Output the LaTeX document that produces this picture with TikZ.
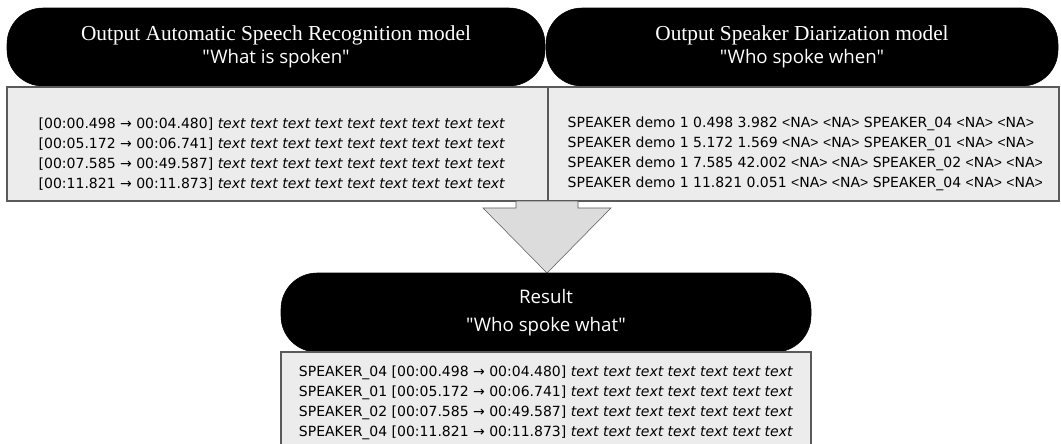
\documentclass[tikz,border=0pt]{standalone}
\usepackage{fontspec}
\setmainfont{DejaVu Sans}
\newfontfamily\headserif{Liberation Serif}
\newfontfamily\headsans{Open Sans}
\newfontfamily\narrowsans{Liberation Sans}

\definecolor{boxfill}{HTML}{ECECEC}
\definecolor{arrowfill}{HTML}{DCDCDC}
\definecolor{edgegray}{HTML}{5A5A5A}

\tikzset{
	pill/.style={fill=black, draw=black, rounded corners=27pt},
	listbox/.style={fill=boxfill, draw=edgegray, thick},
	bigarrow/.style={fill=arrowfill, draw=edgegray},
	headtext/.style={text=white, align=center},
	listtext/.style={font=\fontsize{10.5}{15}\selectfont}
}

\newcommand{\tx}{\textit{text text text text text text text}}
\newcommand{\na}{{\narrowsans\textless}NA{\narrowsans\textgreater}}

\begin{document}
\begin{tikzpicture}[x=0.75pt, y=-0.75pt]
	\useasboundingbox[fill=white] (0,0) rectangle (1061,443);
	% the two model outputs
	\draw[pill] (7,8) rectangle (545,86) node[pos=.5, headtext] (asrhead)
		{{\headserif\fontsize{16}{16}\selectfont Output Automatic Speech Recognition model}\\[2pt]
		 {\headsans\fontsize{14}{14}\selectfont "What is spoken"}};
	\draw[pill] (546,8) rectangle (1058,86) node[pos=.5, headtext] (diarhead)
		{{\headserif\fontsize{16}{16}\selectfont Output Speaker Diarization model}\\[2pt]
		 {\headsans\fontsize{14}{14}\selectfont "Who spoke when"}};
	
	\draw[listbox] (7,87) rectangle (548,201);
	\node[listtext, align=left, anchor=west] (asrlist) at (34,154)
		{{}[00:00.498 → 00:04.480] \tx\textit{ text text}\\
		 {}[00:05.172 → 00:06.741] \tx\textit{ text text}\\
		 {}[00:07.585 → 00:49.587] \tx\textit{ text text}\\
		 {}[00:11.821 → 00:11.873] \tx\textit{ text text}};
	\draw[listbox] (548,87) rectangle (1059,201);
	\node[listtext, align=left, anchor=west] (diarlist) at (563,154)
		{SPEAKER demo 1 0.498 3.982 \na{} \na{} SPEAKER\_04 \na{} \na\\
		 SPEAKER demo 1 5.172 1.569 \na{} \na{} SPEAKER\_01 \na{} \na\\
		 SPEAKER demo 1 7.585 42.002 \na{} \na{} SPEAKER\_02 \na{} \na\\
		 SPEAKER demo 1 11.821 0.051 \na{} \na{} SPEAKER\_04 \na{} \na};
	
	% merge arrow
	\draw[bigarrow] (516,201) -- (578,201) -- (578,208) -- (611,208) -- (547,273)
		-- (483,208) -- (516,208) -- cycle;
	
	% result
	\draw[pill] (281,273) rectangle (811,352) node[pos=.5, headtext] (resulthead)
		{{\headsans\fontsize{14}{14}\selectfont Result}\\[9pt]
		 {\headsans\fontsize{14}{14}\selectfont "Who spoke what"}};
	\draw[listbox] (281,352) rectangle (811,470);
	\node[listtext, align=center] (resultlist) at (546,403)
		{SPEAKER\_04 [00:00.498 → 00:04.480] \tx\\
		 SPEAKER\_01 [00:05.172 → 00:06.741] \tx\\
		 SPEAKER\_02 [00:07.585 → 00:49.587] \tx\\
		 SPEAKER\_04 [00:11.821 → 00:11.873] \tx};
\end{tikzpicture}
\end{document}
